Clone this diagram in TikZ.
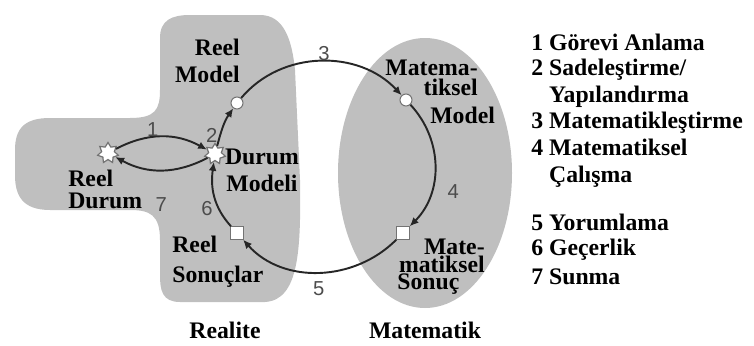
\documentclass[tikz,border=0pt]{standalone}
\usepackage{fontspec}
\setmainfont{Liberation Serif}
\newfontfamily\numfont{Liberation Sans}
\usetikzlibrary{arrows.meta,shapes.geometric}
\tikzset{
  lbl/.style={font=\fontsize{13.5}{15.3}\selectfont\bfseries, inner sep=0pt},
  num/.style={font=\numfont\fontsize{11.5}{13}\selectfont, text=black!70, inner sep=1pt},
  pt/.style={circle, draw=black!55, fill=white, line width=.6pt,
    minimum size=.24cm, inner sep=0pt},
  res/.style={rectangle, draw=black!55, fill=white, line width=.6pt,
    minimum size=.25cm, inner sep=0pt},
  sit/.style={star, star points=7, star point ratio=1.6, draw=black!55,
    fill=white, line width=.7pt, minimum size=.42cm, inner sep=0pt},
  flow/.style={draw=black!85, line width=1.1pt, -{Latex[length=5pt,width=4.5pt]}},
}
\begin{document}
\begin{tikzpicture}[x=0.02cm,y=0.02cm]
  \useasboundingbox (0,0) rectangle (754,-345);
  % realite
  \fill[black!25] (160,-38) .. controls (160,-20) and (172,-15) .. (190,-15)
    -- (260,-15) .. controls (284,-15) and (292,-40) .. (295,-70)
    -- (300,-180) .. controls (301,-250) and (299,-300) .. (265,-302)
    -- (180,-302) .. controls (162,-302) and (160,-290) .. (160,-275)
    -- (160,-240) .. controls (160,-215) and (150,-210) .. (130,-210)
    -- (50,-210) .. controls (22,-210) and (15,-195) .. (15,-175)
    -- (15,-150) .. controls (15,-128) and (25,-118) .. (50,-118)
    -- (130,-118) .. controls (155,-118) and (160,-110) .. (160,-90) -- cycle;
  % matematik
  \fill[black!25] (425,-173) ellipse [x radius=87, y radius=135];

  \node[sit] (rd) at (108,-153) {};
  \node[sit] (dm) at (215,-154) {};
  \node[pt] (rm) at (237,-103) {};
  \node[pt] (mm) at (406,-100) {};
  \node[res] (ms) at (403,-233) {};
  \node[res] (rs) at (237,-233) {};

  \draw[flow] (rd) to[bend left=28] node[num, above, inner sep=0pt, pos=.4] (n1) {1} (dm);
  \draw[flow] (dm) to[bend left=28] node[num, below=14pt] (n7) {7} (rd);
  \draw[flow] (dm) to[out=75,in=235] node[num, left, pos=.25] (n2) {2} (rm);
  \draw[flow] (rm) to[out=50,in=133] node[num, above, inner sep=0pt, pos=.52] (n3) {3} (mm);
  \draw[flow] (mm) to[out=-47,in=45] node[num, pos=.7, right=8pt] (n4) {4} (ms);
  \draw[flow] (ms) to[out=225,in=-48] node[num, below=4pt] (n5) {5} (rs);
  \draw[flow] (rs) to[out=132,in=262] node[num, left=2pt, pos=.3] (n6) {6} (dm);

  \node[lbl, anchor=east, align=right] (trm) at (240,-61) {Reel\\Model};
  \node[lbl, align=center] (tdm) at (262,-170) {Durum\\Modeli};
  \node[lbl, anchor=west, align=left] (trd) at (68,-189) {Reel\\[-2.8pt]Durum};
  \node[lbl, anchor=west, align=left] (trs) at (172,-262) {Reel\\[1.7pt]Sonuçlar};
  \node[lbl, anchor=east, align=right] (tmm) at (478,-78) {Matema-\\[-4pt]tiksel};
  \node[lbl, anchor=west] (tmm2) at (430,-115) {Model};
  \node[lbl, anchor=east, align=right] (tms) at (485,-256) {Mate-\\[-5.2pt]matiksel};
  \node[lbl, anchor=west] (tms2) at (397,-284) {Sonuç};

  \node[lbl] (realite) at (225,-330) {Realite};
  \node[lbl] (matematik) at (425,-330) {Matematik};

  % adimlar
  \foreach \i/\y/\t in {1/42/{1 Görevi Anlama},
      2/83.5/{2 Sadeleştirme/\\\hphantom{2\ }Yapılandırma},
      3/123/{3 Matematikleştirme},
      4/163.5/{4 Matematiksel\\\hphantom{4\ }Çalışma},
      5/222/{5 Yorumlama}, 6/250/{6 Geçerlik}, 7/277/{7 Sunma}}
    \node[lbl, anchor=west, align=left] (l\i) at (531,-\y) {\t};
\end{tikzpicture}
\end{document}
